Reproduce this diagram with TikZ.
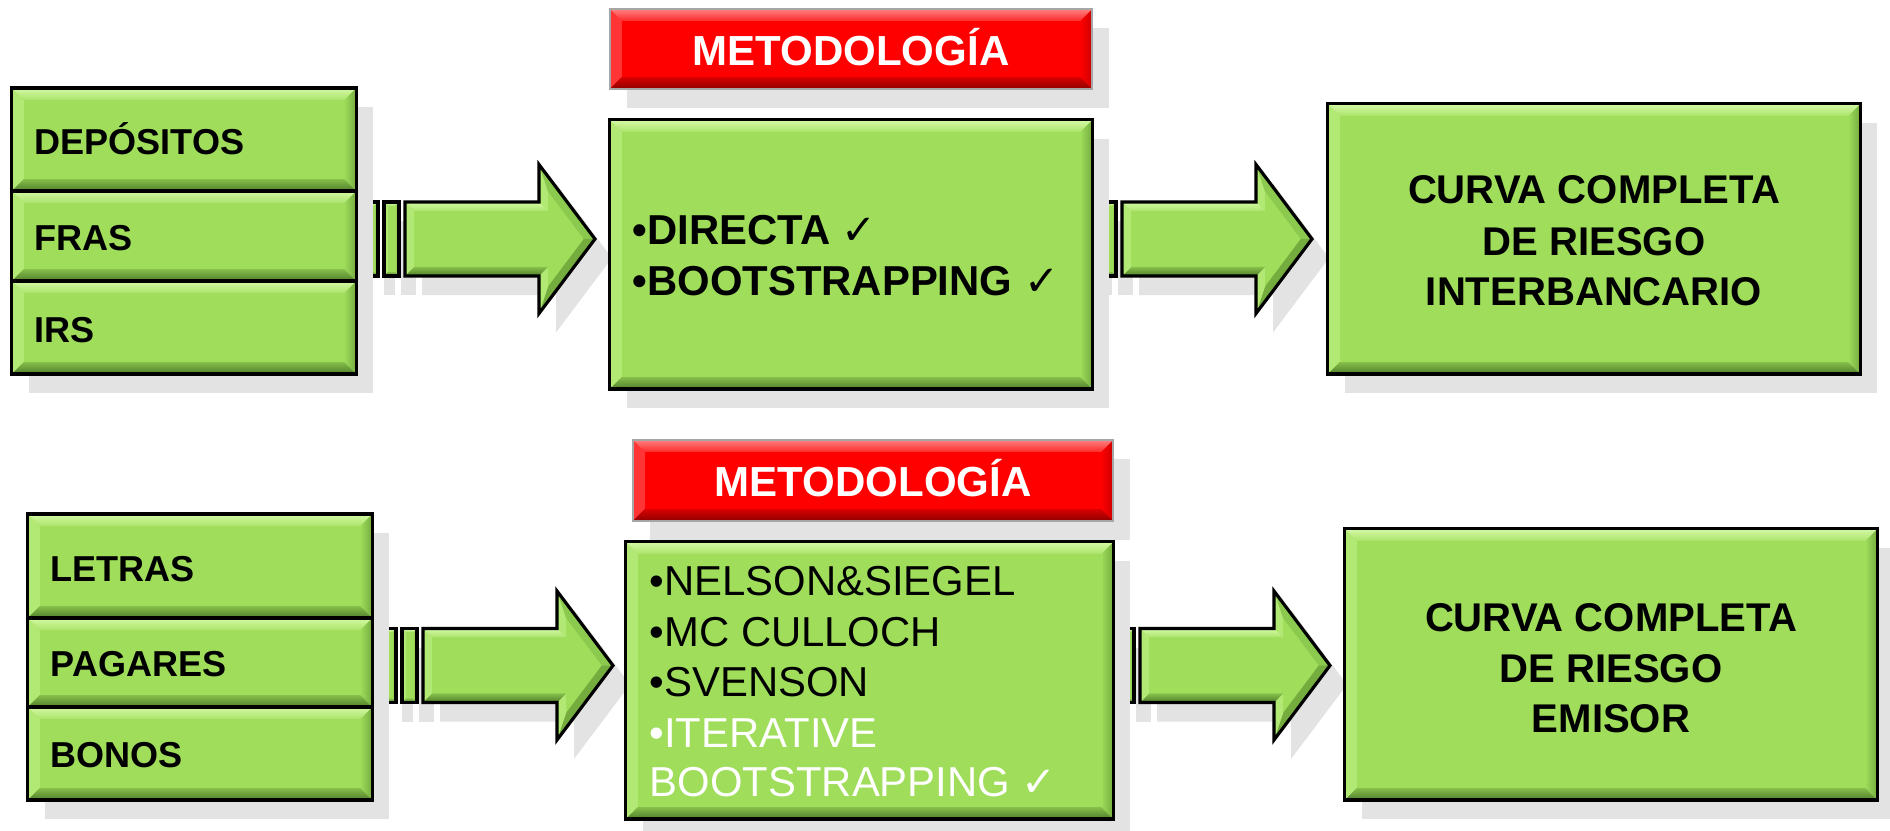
\documentclass[tikz,border=0pt]{standalone}
\usepackage{fontspec}
\setmainfont{Liberation Sans}
\newfontfamily\chkfont{DejaVu Sans}
\usetikzlibrary{calc,shadows}

% green bevel palette
\definecolor{gbase}{HTML}{9FDD5B}
\definecolor{gtopo}{HTML}{D4FAA6}
\definecolor{gtopi}{HTML}{ABE36B}
\definecolor{gleft}{HTML}{B2E874}
\definecolor{gright}{HTML}{74AC3E}
\definecolor{gboti}{HTML}{86BF4A}
\definecolor{gboto}{HTML}{4F7D2B}
\definecolor{gdiag}{HTML}{8CC94F}
% red bevel palette
\definecolor{rbase}{HTML}{FF0000}
\definecolor{rtopo}{HTML}{FF8080}
\definecolor{rtopi}{HTML}{FF2A2A}
\definecolor{rleft}{HTML}{FF3434}
\definecolor{rright}{HTML}{CC0000}
\definecolor{rboti}{HTML}{D80000}
\definecolor{rboto}{HTML}{8E0000}
\definecolor{shadowgray}{HTML}{E3E3E3}
\definecolor{rimgray}{HTML}{A6A6A6}

% bevel bands inside a rectangular path: #1 palette prefix, #2 band width
\newcommand\bevelbands[2]{%
  \coordinate (bvnw) at (path picture bounding box.north west);
  \coordinate (bvse) at (path picture bounding box.south east);
  \coordinate (bvne) at (bvnw -| bvse);
  \coordinate (bvsw) at (bvnw |- bvse);
  \coordinate (bvinw) at ($(bvnw)+(#2,#2)$);
  \coordinate (bvine) at ($(bvne)+(-#2,#2)$);
  \coordinate (bvise) at ($(bvse)+(-#2,-#2)$);
  \coordinate (bvisw) at ($(bvsw)+(#2,-#2)$);
  \fill[#1left] (bvnw) -- (bvinw) -- (bvisw) -- (bvsw) -- cycle;
  \shade[left color=#1base, right color=#1right] (bvne) -- (bvine) -- (bvise) -- (bvse) -- cycle;
  \shade[top color=#1topo, bottom color=#1topi] (bvnw) -- (bvne) -- (bvine) -- (bvinw) -- cycle;
  \shade[top color=#1boti, bottom color=#1boto] (bvsw) -- (bvse) -- (bvise) -- (bvisw) -- cycle;
}

\tikzset{
  shadowed/.style={drop shadow={shadow xshift=0.17cm, shadow yshift=-0.19cm,
      fill=shadowgray, opacity=1}},
  greenpanel/.style={shadowed, draw=black, line width=0.9pt, fill=gbase,
      path picture={\bevelbands{g}{12}}, inner sep=0pt, outer sep=0pt},
  redpanel/.style={shadowed, draw=rimgray, line width=0.6pt, fill=rbase,
      path picture={\bevelbands{r}{12}}, inner sep=0pt, outer sep=0pt},
  stripebar/.style={shadowed, draw=black, line width=0.9pt, fill=gbase,
      path picture={\bevelbands{g}{4}}},
  stacklbl/.style={anchor=base west, inner sep=0pt,
      font=\bfseries\fontsize{10.25}{12}\selectfont},
  hdrtxt/.style={anchor=base, inner sep=0pt, text=white,
      font=\bfseries\fontsize{11.95}{14}\selectfont},
  methtxt/.style={anchor=base west, inner sep=0pt,
      font=\bfseries\fontsize{11.9}{14}\selectfont},
  listtxt/.style={anchor=base west, inner sep=0pt,
      font=\fontsize{11.9}{14}\selectfont},
  outtxt/.style={anchor=base, inner sep=0pt,
      font=\bfseries\fontsize{11.4}{14}\selectfont},
}

% rectangular panel from corner (x1,y1) to (x2,y2), in pixel units
\newcommand\bvpanel[6]{%
  \pgfmathsetmacro\pnw{(#5-#3)/100}%
  \pgfmathsetmacro\pnh{(#6-#4)/100}%
  \node[#1, minimum width=\pnw cm, minimum height=\pnh cm] (#2)
    at ({(#3+#5)/2},{(#4+#6)/2}) {};%
}

% striped block arrow: body starts at x0, centred on yc
\newcommand\stripedarrow[2]{%
  \begin{scope}[shift={(#1,#2)}]
    \path[stripebar] (-38,-37) rectangle (-27,37);
    \path[stripebar] (-21,-37) rectangle (-6,37);
    \path[shadowed, fill=gbase] (0,-37) -- (134,-37) -- (134,-74.5) -- (190,0)
      -- (134,74.5) -- (134,37) -- (0,37) -- cycle;
    % bevel bands
    \shade[top color=gtopo, bottom color=gtopi]
      (0,-37) -- (134,-37) -- (143,-28) -- (9,-28) -- cycle;
    \fill[gleft] (134,-37) -- (134,-74.5) -- (143,-47.6) -- (143,-28) -- cycle;
    \fill[gdiag] (134,-74.5) -- (190,0) -- (178.8,0) -- (143,-47.6) -- cycle;
    \fill[gright] (190,0) -- (134,74.5) -- (143,47.6) -- (178.8,0) -- cycle;
    \fill[gleft] (134,74.5) -- (134,37) -- (143,28) -- (143,47.6) -- cycle;
    \shade[top color=gboti, bottom color=gboto]
      (134,37) -- (0,37) -- (9,28) -- (143,28) -- cycle;
    \fill[gleft] (0,37) -- (0,-37) -- (9,-28) -- (9,28) -- cycle;
    \draw[black, line width=0.9pt, line join=miter] (0,-37) -- (134,-37)
      -- (134,-74.5) -- (190,0) -- (134,74.5) -- (134,37) -- (0,37) -- cycle;
  \end{scope}
}

\begin{document}
\begin{tikzpicture}[x=0.01cm, y=-0.01cm]
  \useasboundingbox (0,0) rectangle (1890,831);

  % ---------- block arrows (behind the panels) ----------
  \stripedarrow{405}{239}
  \stripedarrow{1122}{239}
  \stripedarrow{423}{665.5}
  \stripedarrow{1140}{665.5}

  % ---------- upper row ----------
  \bvpanel{greenpanel}{dep}{12}{88}{356}{191}
  \bvpanel{greenpanel}{fras}{12}{191}{356}{281}
  \bvpanel{greenpanel}{irs}{12}{281}{356}{374}
  \node[stacklbl] (tdep) at (34,155) {DEPÓSITOS};
  \node[stacklbl] (tfras) at (34,251) {FRAS};
  \node[stacklbl] (tirs) at (34,343) {IRS};

  \bvpanel{redpanel}{hdrA}{610}{9}{1092}{89}
  \node[hdrtxt] (thdrA) at (851,66) {METODOLOGÍA};

  \bvpanel{greenpanel}{methA}{610}{120}{1092}{389}
  \node[methtxt] (tmA1) at (632,245) {•DIRECTA {\chkfont\mdseries ✓}};
  \node[methtxt] (tmA2) at (632,296) {•BOOTSTRAPPING {\chkfont\mdseries ✓}};

  \bvpanel{greenpanel}{outA}{1328}{104}{1860}{374}
  \node[outtxt] (toA1) at (1594,204) {CURVA COMPLETA};
  \node[outtxt] (toA2) at (1594,256) {DE RIESGO};
  \node[outtxt] (toA3) at (1594,306) {INTERBANCARIO};

  % ---------- lower row ----------
  \bvpanel{greenpanel}{let}{28}{514}{372}{618}
  \bvpanel{greenpanel}{pag}{28}{618}{372}{707}
  \bvpanel{greenpanel}{bon}{28}{707}{372}{800}
  \node[stacklbl] (tlet) at (50,582) {LETRAS};
  \node[stacklbl] (tpag) at (50,677) {PAGARES};
  \node[stacklbl] (tbon) at (50,768) {BONOS};

  \bvpanel{redpanel}{hdrB}{633}{440}{1113}{521}
  \node[hdrtxt] (thdrB) at (873,497) {METODOLOGÍA};

  \bvpanel{greenpanel}{methB}{626}{542}{1113}{819}
  \node[listtxt] (tmB1) at (649,596) {•NELSON\&SIEGEL};
  \node[listtxt] (tmB2) at (649,647) {•MC CULLOCH};
  \node[listtxt] (tmB3) at (649,697) {•SVENSON};
  \node[listtxt, text=white] (tmB4) at (649,748) {•ITERATIVE};
  \node[listtxt, text=white] (tmB5) at (649,797) {BOOTSTRAPPING {\chkfont ✓}};

  \bvpanel{greenpanel}{outB}{1345}{529}{1877}{800}
  \node[outtxt] (toB1) at (1611,632) {CURVA COMPLETA};
  \node[outtxt] (toB2) at (1611,683) {DE RIESGO};
  \node[outtxt] (toB3) at (1611,733) {EMISOR};
\end{tikzpicture}
\end{document}
